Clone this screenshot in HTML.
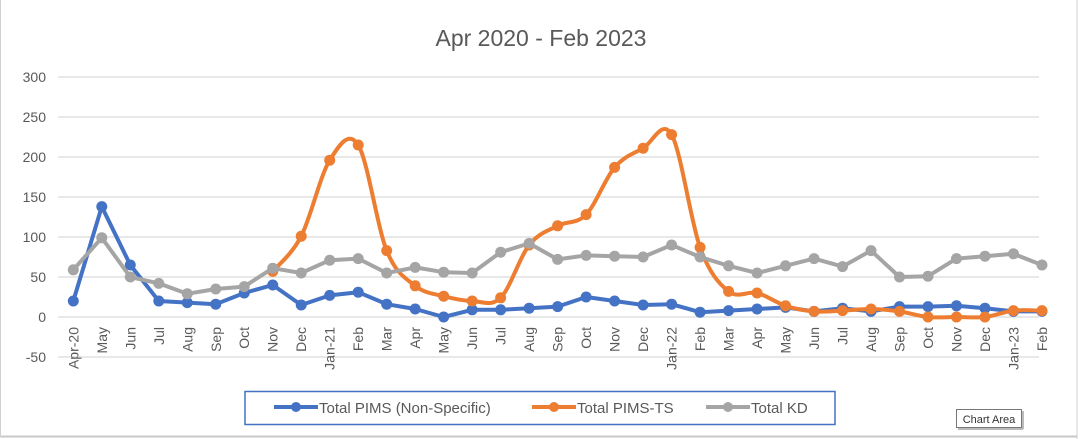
<!DOCTYPE html>
<html><head><meta charset="utf-8"><style>
body{margin:0;width:1082px;height:439px;background:#fff;overflow:hidden;font-family:"Liberation Sans",sans-serif}
</style></head><body>
<svg id="s" width="1082" height="439" xmlns="http://www.w3.org/2000/svg" style="position:absolute;left:0;top:0">
<rect x="0" y="0" width="1082" height="439" fill="#fff"/>
<line x1="1077" y1="0" x2="1077" y2="439" stroke="#d0d0d0" stroke-width="1"/>
<line x1="0" y1="436.5" x2="1077" y2="436.5" stroke="#c8c8c8" stroke-width="2"/>
<line x1="0.5" y1="0" x2="0.5" y2="437" stroke="#d0d0d0"/>
<text x="541" y="46" text-anchor="middle" font-size="23" fill="#595959">Apr 2020 - Feb 2023</text>
<g id="grid"></g>
<g id="lab" font-size="14" fill="#595959"></g>
<g id="ser"></g>
<rect x="245" y="391.5" width="590" height="33" fill="#fff" stroke="#4472c4" stroke-width="1.5"/>
<g font-size="15" fill="#595959">
<line x1="274" y1="407" x2="318" y2="407" stroke="#4472c4" stroke-width="4"/><circle cx="296" cy="407" r="5" fill="#4472c4"/>
<text x="319" y="413">Total PIMS (Non-Specific)</text>
<line x1="532" y1="407" x2="576" y2="407" stroke="#ed7d31" stroke-width="4"/><circle cx="554" cy="407" r="5" fill="#ed7d31"/>
<text x="577" y="413">Total PIMS-TS</text>
<line x1="706" y1="407" x2="750" y2="407" stroke="#a5a5a5" stroke-width="4"/><circle cx="728" cy="407" r="5" fill="#a5a5a5"/>
<text x="751" y="413">Total KD</text>
</g>
<rect x="956.5" y="409.5" width="65" height="18" fill="#fff" stroke="#777"/>
<line x1="958" y1="429" x2="1023" y2="429" stroke="#bbb" stroke-width="2"/>
<line x1="1023" y1="411" x2="1023" y2="429" stroke="#bbb" stroke-width="2"/>
<text x="989" y="423" text-anchor="middle" font-size="11" fill="#333">Chart Area</text>
</svg>
<script>
var NS="http://www.w3.org/2000/svg";
function el(p,t,a,txt){var e=document.createElementNS(NS,t);for(var k in a)e.setAttribute(k,a[k]);if(txt!=null)e.textContent=txt;document.getElementById(p).appendChild(e);return e;}
var y0=317,k=0.8;function Y(v){return y0-v*k}
var x0=73.3,dx=28.49;function X(i){return x0+i*dx}
for(var v=-50;v<=300;v+=50){el("grid","line",{x1:58,x2:1039,y1:Y(v),y2:Y(v),stroke:"#d9d9d9","stroke-width":1.3});
el("lab","text",{x:46,y:Y(v)+5,"text-anchor":"end"},v);}
var labs=["Apr-20","May","Jun","Jul","Aug","Sep","Oct","Nov","Dec","Jan-21","Feb","Mar","Apr","May","Jun","Jul","Aug","Sep","Oct","Nov","Dec","Jan-22","Feb","Mar","Apr","May","Jun","Jul","Aug","Sep","Oct","Nov","Dec","Jan-23","Feb"];
labs.forEach(function(l,i){el("lab","text",{transform:"translate("+(X(i)+5)+",327) rotate(-90)","text-anchor":"end"},l);});
var blue=[20,138,65,20,18,16,30,40,15,27,31,16,10,0,9,9,11,13,25,20,15,16,6,8,10,12,7,11,7,13,13,14,11,7,7];
var orange=[null,null,null,null,null,null,null,57,101,196,215,83,39,26,20,24,90,114,128,187,211,228,87,32,30,14,7,8,10,7,0,0,0,8,8];
var gray=[59,99,50,42,29,35,38,61,55,71,73,55,62,56,55,81,92,72,77,76,75,90,75,64,55,64,73,63,83,50,51,73,76,79,65];
function draw(d,c,smooth){var p=[];d.forEach(function(v,i){if(v!=null)p.push([X(i),Y(v)]);});
var s="M"+p[0][0]+","+p[0][1],t=1/6;
for(var i=0;i<p.length-1;i++){var a=p[Math.max(i-1,0)],b=p[i],e=p[i+1],f=p[Math.min(i+2,p.length-1)];
if(smooth)s+=" C"+(b[0]+(e[0]-a[0])*t)+","+(b[1]+(e[1]-a[1])*t)+" "+(e[0]-(f[0]-b[0])*t)+","+(e[1]-(f[1]-b[1])*t)+" "+e[0]+","+e[1];
else s+=" L"+e[0]+","+e[1];}
el("ser","path",{d:s,fill:"none",stroke:c,"stroke-width":4,"stroke-linejoin":"round"});
p.forEach(function(q){el("ser","circle",{cx:q[0],cy:q[1],r:5.5,fill:c});});}
draw(blue,"#4472c4",false);draw(orange,"#ed7d31",true);draw(gray,"#a5a5a5",false);
</script>
</body></html>
